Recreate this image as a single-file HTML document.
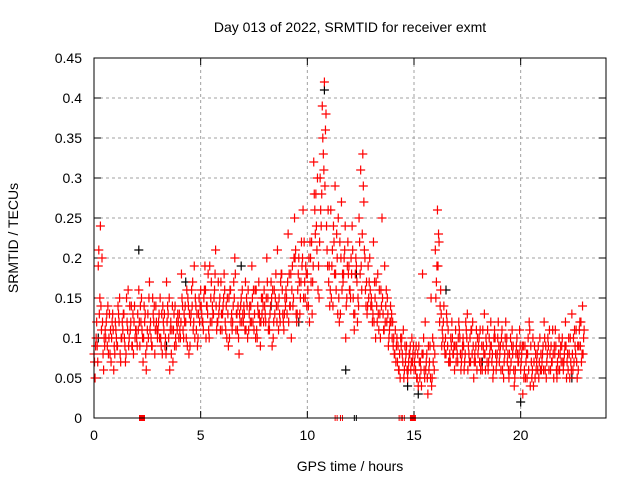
<!DOCTYPE html>
<html><head><meta charset="utf-8"><style>
html,body{margin:0;padding:0;background:#fff}
svg{display:block;font-family:"Liberation Sans",sans-serif}
</style></head><body>
<svg id="chart" width="640" height="480" viewBox="0 0 640 480">
<rect width="640" height="480" fill="#fff"/>
<text x="350" y="32" font-size="14" text-anchor="middle">Day 013 of 2022, SRMTID for receiver exmt</text>
<text x="350" y="471" font-size="14" text-anchor="middle">GPS time / hours</text>
<text transform="translate(18,238) rotate(-90)" font-size="14" text-anchor="middle">SRMTID / TECUs</text>
<g id="grid"></g><g id="ticks"></g><g id="marks"></g>
<rect x="94" y="58" width="512" height="360" fill="none" stroke="#000" stroke-width="1"/>
</svg>
<script>
const xTicks=[0,5,10,15,20];
const yTicks=[0,0.05,0.1,0.15,0.2,0.25,0.3,0.35,0.4,0.45];
const yTickLabels=["0","0.05","0.1","0.15","0.2","0.25","0.3","0.35","0.4","0.45"];
const redValuesA=[.08,.10,.19,.24,.12,.09,.13,.10,.07,.11,
.12,.09,.15,.10,.13,.08,.16,.11,.09,.14,
.10,.16,.12,.07,.13,.11,.17,.09,.12,.14,
.11,.15,.08,.13,.17,.10,.12,.07,.14,.11,
.13,.18,.10,.12,.15,.09,.14,.19,.11,.13,
.16,.12,.19,.14,.10,.17,.13,.21,.12,.15,
.11,.18,.14,.09,.16,.12,.20,.13,.08,.15,
.12,.17,.10,.14,.19,.11,.16,.13,.09,.15,
.14,.20,.12,.17,.10,.15,.21,.13,.18,.11,
.16,.23,.14,.19,.25,.12,.20,.17,.26,.15,
.18,.12,.22,.32,.28,.16,.30,.39,.42,.24,
.17,.26,.14,.29,.20,.12,.27,.18,.10,.22,
.16,.24,.11,.19,.14,.31,.33,.20,.13,.17,
.15,.22,.10,.18,.13,.25,.11,.16,.09,.14,
.12,.08,.10,.06,.09,.11,.07,.05,.08,.10,
.06,.09,.04,.07,.18,.05,.08,.06,.15,.07,
.21,.26,.12,.09,.14,.08,.11,.07,.10,.06,
.09,.12,.06,.10,.08,.13,.07,.11,.05,.09,
.08,.11,.06,.13,.09,.07,.12,.05,.10,.08,
.07,.10,.05,.12,.08,.06,.11,.04,.09,.07,
.06,.03,.09,.05,.12,.07,.04,.08,.06,.10,
.07,.12,.05,.09,.06,.11,.08,.05,.10,.07,
.06,.12,.08,.05,.13,.07,.11,.06,.09,.14];
const redValuesB=[.05,.09,.13,.11,.06,.10,.14,.08,.12,.09,
.10,.13,.07,.11,.09,.12,.10,.14,.08,.11,
.13,.09,.11,.14,.06,.10,.12,.15,.08,.11,
.13,.09,.12,.10,.14,.06,.11,.13,.09,.12,
.10,.14,.12,.16,.08,.13,.11,.15,.09,.12,
.13,.15,.10,.18,.12,.14,.16,.11,.13,.17,
.14,.12,.15,.10,.13,.17,.11,.14,.12,.16,
.13,.15,.11,.14,.12,.16,.10,.13,.15,.12,
.12,.15,.13,.09,.16,.14,.11,.17,.13,.15,
.13,.18,.10,.15,.21,.16,.13,.19,.22,.18,
.14,.20,.17,.26,.21,.15,.24,.33,.36,.19,
.14,.19,.22,.16,.25,.13,.18,.21,.15,.19,
.20,.15,.18,.12,.22,.16,.27,.14,.19,.16,
.12,.17,.14,.11,.16,.13,.12,.15,.11,.13,
.10,.07,.09,.05,.08,.06,.09,.07,.06,.08,
.08,.05,.07,.04,.10,.06,.03,.09,.05,.06,
.17,.23,.16,.10,.08,.12,.07,.09,.08,.11,
.07,.10,.08,.06,.11,.09,.07,.12,.08,.06,
.10,.07,.09,.06,.11,.08,.07,.10,.06,.12,
.09,.06,.08,.10,.05,.07,.09,.06,.08,.11,
.08,.05,.07,.10,.04,.06,.09,.07,.05,.08,
.09,.06,.08,.11,.07,.05,.09,.06,.08,.10,
.08,.05,.10,.07,.06,.09,.05,.11,.07,.10];
const redValuesC=[.07,.12,.21,.14,.08,.11,.09,.13,.10,.06,
.11,.14,.08,.12,.10,.15,.09,.12,.13,.10,
.09,.12,.15,.10,.08,.13,.11,.09,.14,.12,
.12,.10,.14,.09,.12,.15,.08,.11,.10,.13,
.11,.15,.13,.10,.14,.12,.17,.10,.13,.15,
.14,.11,.16,.13,.19,.12,.15,.14,.17,.11,
.13,.16,.10,.15,.12,.14,.18,.11,.13,.12,
.14,.11,.16,.12,.15,.13,.11,.17,.12,.14,
.13,.17,.11,.15,.12,.18,.14,.12,.16,.13,
.15,.12,.18,.14,.20,.13,.17,.22,.15,.19,
.16,.22,.13,.28,.24,.19,.26,.35,.29,.21,
.19,.15,.24,.18,.13,.22,.16,.20,.14,.18,
.15,.21,.13,.17,.25,.19,.29,.16,.14,.20,
.14,.12,.17,.13,.10,.15,.19,.12,.10,.12,
.09,.11,.07,.08,.10,.05,.08,.06,.09,.07,
.07,.05,.09,.06,.08,.12,.05,.07,.04,.09,
.15,.19,.14,.11,.09,.13,.07,.10,.08,.09,
.08,.11,.07,.09,.12,.06,.10,.08,.07,.11,
.09,.06,.11,.08,.07,.10,.09,.06,.08,.10,
.08,.11,.07,.09,.06,.10,.08,.05,.10,.08,
.07,.09,.05,.08,.11,.05,.07,.06,.09,.06,
.08,.10,.07,.06,.09,.08,.11,.07,.06,.09,
.07,.09,.06,.10,.08,.11,.07,.09,.12,.08];
const redValuesD=[.09,.07,.15,.20,.10,.12,.08,.11,.13,.08,
.09,.12,.10,.13,.07,.11,.14,.09,.12,.11,
.11,.14,.10,.12,.09,.15,.10,.13,.11,.10,
.10,.13,.11,.08,.13,.11,.14,.09,.12,.10,
.12,.11,.14,.09,.13,.16,.12,.14,.10,.14,
.12,.16,.14,.11,.15,.13,.18,.12,.14,.13,
.15,.11,.13,.16,.11,.15,.13,.10,.14,.13,
.11,.14,.13,.12,.16,.10,.14,.12,.13,.16,
.15,.11,.14,.16,.13,.12,.15,.18,.12,.14,
.17,.14,.16,.20,.13,.18,.15,.20,.17,.14,
.20,.17,.19,.23,.30,.22,.28,.31,.38,.26,
.16,.21,.18,.23,.15,.20,.17,.24,.19,.16,
.18,.13,.20,.15,.18,.23,.21,.17,.15,.14,
.13,.15,.12,.16,.14,.11,.14,.13,.12,.10,
.08,.09,.06,.10,.07,.09,.06,.08,.07,.09,
.06,.08,.05,.08,.06,.07,.09,.05,.10,.08,
.19,.22,.13,.12,.10,.09,.08,.12,.09,.07,
.10,.08,.09,.07,.10,.08,.11,.09,.07,.10,
.07,.09,.08,.10,.06,.09,.08,.11,.07,.09,
.06,.09,.10,.07,.08,.09,.06,.08,.07,.09,
.09,.06,.08,.06,.09,.10,.05,.08,.07,.06,
.06,.09,.10,.08,.07,.09,.06,.08,.09,.07,
.09,.07,.08,.06,.10,.08,.09,.12,.08,.11];
const blackTimes=[0.2,2.1,4.3,6.9,8.3,10.8,11.8,14.7,15.2,16.5,20.0,12.3,9.6,3.4,18.2,22.4];
const blackValues=[.10,.21,.17,.19,.14,.41,.06,.04,.03,.16,.02,.18,.12,.09,.07,.05];
const redSquareTimes=[2.25,14.95];
const redTickTimes=[11.35,11.6,14.35,14.5];
const blackTickTimes=[12.25];

const X0=94,X1=606,Y0=418,Y1=58;
const sx=t=>X0+(t/24)*(X1-X0);
const sy=v=>Y0-(v/0.45)*(Y0-Y1);
const NS="http://www.w3.org/2000/svg";
function mk(tag,attrs,parent){const e=document.createElementNS(NS,tag);for(const k in attrs)e.setAttribute(k,attrs[k]);parent.appendChild(e);return e;}
const grid=document.getElementById('grid'),ticks=document.getElementById('ticks'),marks=document.getElementById('marks');
xTicks.forEach(t=>{const x=sx(t);
 const g=mk('line',{x1:x,x2:x,y1:Y1,y2:Y0,stroke:'#a0a0a0','stroke-dasharray':'3,3'},grid);
 
 
 mk('line',{x1:x,x2:x,y1:Y0,y2:Y0-7,stroke:'#000'},ticks);
 mk('line',{x1:x,x2:x,y1:Y1,y2:Y1+7,stroke:'#000'},ticks);
 const l=mk('text',{x:x,y:Y0+22,'font-size':14,'text-anchor':'middle'},ticks);l.textContent=t;
 
 
});
yTicks.forEach((v,i)=>{const y=sy(v);
 if(i>0&&i<yTicks.length-1){const g=mk('line',{x1:X0,x2:X1,y1:y,y2:y,stroke:'#a0a0a0','stroke-dasharray':'3,3'},grid);
 
 }
 mk('line',{x1:X0,x2:X0+7,y1:y,y2:y,stroke:'#000'},ticks);
 mk('line',{x1:X1,x2:X1-7,y1:y,y2:y,stroke:'#000'},ticks);
 const l=mk('text',{x:X0-12,y:y+5,'font-size':14,'text-anchor':'end'},ticks);l.textContent=yTickLabels[i];
 
 
});
function cross(t,v,col,name){const x=sx(t),y=sy(v);
 const p=mk('path',{d:`M${x-4.5},${y}h9M${x},${y-4.5}v9`,stroke:col,'stroke-width':1.2,fill:'none'},marks);
 
 }
blackValues.forEach((v,i)=>cross(blackTimes[i],v,'#000','black-point'));
redValuesD.forEach((v,i)=>cross(i*0.1+0.075,v,'#f00','red-point'));
redValuesC.forEach((v,i)=>cross(i*0.1+0.025,v,'#f00','red-point'));
redValuesB.forEach((v,i)=>cross(i*0.1+0.05,v,'#f00','red-point'));
redValuesA.forEach((v,i)=>cross(i*0.1,v,'#f00','red-point'));
redSquareTimes.forEach(t=>{const r=mk('rect',{x:sx(t)-3,y:Y0-3,width:6,height:6,fill:'#f00'},marks);
 
 });
redTickTimes.forEach(t=>{const p=mk('path',{d:`M${sx(t)-1},${Y0-3}v6M${sx(t)+1},${Y0-3}v6`,stroke:'#f00'},marks);
 
 });
blackTickTimes.forEach(t=>{const p=mk('path',{d:`M${sx(t)-1},${Y0-3}v6M${sx(t)+1},${Y0-3}v6`,stroke:'#000'},marks);
 
 });
</script>
</body></html>
